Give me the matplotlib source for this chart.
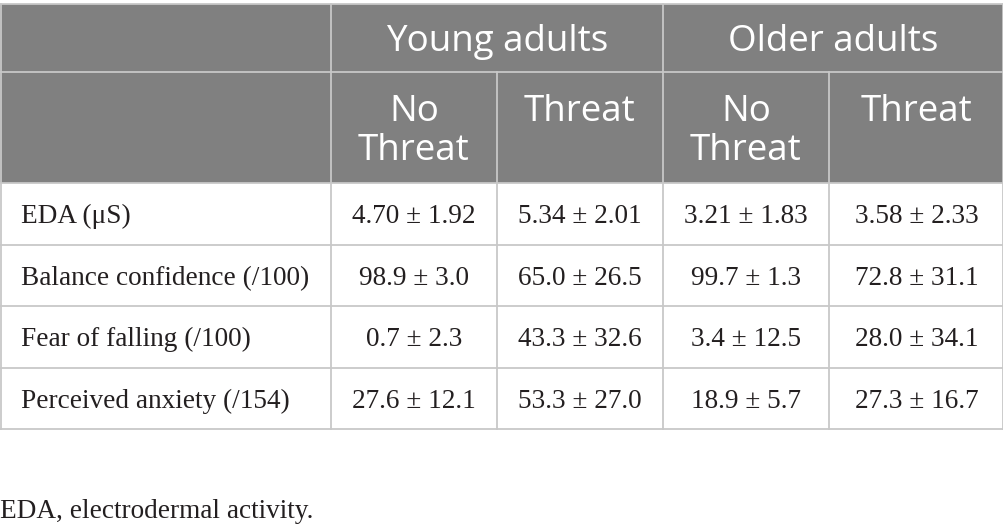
import matplotlib
matplotlib.use("Agg")
import matplotlib.pyplot as plt
from matplotlib.patches import Rectangle

groups = ["Young adults", "Older adults"]
conditions = ["No\nThreat", "Threat", "No\nThreat", "Threat"]
measures = ["EDA (μS)", "Balance confidence (/100)", "Fear of falling (/100)", "Perceived anxiety (/154)"]
values = [
    ["4.70 ± 1.92", "5.34 ± 2.01", "3.21 ± 1.83", "3.58 ± 2.33"],
    ["98.9 ± 3.0", "65.0 ± 26.5", "99.7 ± 1.3", "72.8 ± 31.1"],
    ["0.7 ± 2.3", "43.3 ± 32.6", "3.4 ± 12.5", "28.0 ± 34.1"],
    ["27.6 ± 12.1", "53.3 ± 27.0", "18.9 ± 5.7", "27.3 ± 16.7"],
]
footnote = "EDA, electrodermal activity."

W, H = 1004, 531
fig = plt.figure(figsize=(W / 100, H / 100), dpi=100)
ax = fig.add_axes([0, 0, 1, 1])
ax.set_xlim(0, W)
ax.set_ylim(H, 0)
ax.axis("off")

# layout in pixels
col_x = [0, 331, 497, 663, 829, 1004]
top, hdr1, hdr2 = 4, 72, 183
row_h = 61.5
grid = "#c8c8c8"
head_bg = "#808080"
sans = "Open Sans"
serif = ["Liberation Serif", "DejaVu Serif"]
ink = "#231f20"
hsize = 26.5
bsize = 19.6

# header background
ax.add_patch(Rectangle((0, top), W, hdr2 - top, color=head_bg, lw=0))

# group headers
for i, g in enumerate(groups):
    x0, x1 = col_x[1 + 2 * i], col_x[3 + 2 * i]
    ax.text((x0 + x1) / 2, (top + hdr1) / 2 + 4, g, ha="center", va="center",
            color="white", fontsize=hsize, family=sans)

# condition headers
for j, c in enumerate(conditions):
    xc = (col_x[j + 1] + col_x[j + 2]) / 2
    ax.text(xc, 94, c, ha="center", va="top", color="white", fontsize=hsize,
            family=sans, linespacing=1.12)

# body
n = len(measures)
for r in range(n):
    yc = hdr2 + row_h * (r + 0.5) + 3
    ax.text(21, yc, measures[r], ha="left", va="center", fontsize=bsize,
            family=serif, color=ink)
    for j in range(4):
        xc = (col_x[j + 1] + col_x[j + 2]) / 2
        ax.text(xc, yc, values[r][j], ha="center", va="center", fontsize=bsize,
                family=serif, color=ink)

bottom = hdr2 + row_h * n

# grid lines
lw = 1.3
ax.plot([0, W], [top, top], color=grid, lw=lw)
ax.plot([0, W], [hdr1, hdr1], color=grid, lw=lw)
for r in range(n + 1):
    y = hdr2 + row_h * r
    ax.plot([0, W], [y, y], color=grid, lw=lw)
for i in [1, 3]:
    ax.plot([col_x[i], col_x[i]], [top, bottom], color=grid, lw=lw)
for i in [2, 4]:
    ax.plot([col_x[i], col_x[i]], [hdr1, bottom], color=grid, lw=lw)
ax.plot([0.7, 0.7], [top, bottom], color=grid, lw=lw)
ax.plot([W - 0.7, W - 0.7], [top, bottom], color=grid, lw=lw)

ax.text(0, 511, footnote, ha="left", va="center", fontsize=bsize,
        family=serif, color=ink)

fig.savefig("out.png", dpi=100)
